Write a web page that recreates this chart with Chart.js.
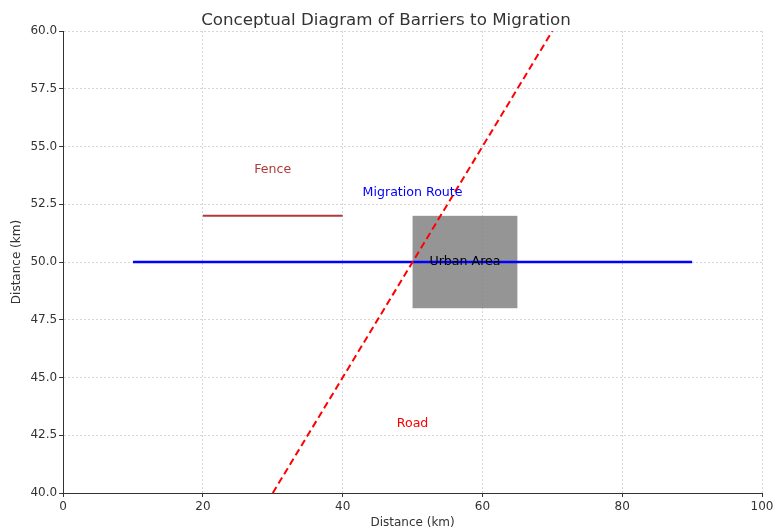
<!DOCTYPE html>
<html>
<head>
<meta charset="utf-8">
<script src="https://cdn.jsdelivr.net/npm/chart.js@4/dist/chart.umd.min.js"></script>
<style>
  html, body { margin: 0; padding: 0; background: #fff; }
  #wrap { width: 783px; height: 527px; }
</style>
</head>
<body>
<div id="wrap"><canvas id="c"></canvas></div>
<script>
// Data
const roadX = [30, 70];
const roadY = [40, 60];
const routeX = [10, 90];
const routeY = [50, 50];
const fenceX = [20, 40];
const fenceY = [52, 52];
const urbanBox = [50, 65, 48, 52]; // xMin, xMax, yMin, yMax
const labelText = ["Fence", "Migration Route", "Urban Area", "Road"];
const labelX = [30, 50, 57.5, 50];
const labelY = [54, 53, 50, 43];
const labelColor = ["#b03a3a", "#0000ff", "#000000", "#ff0000"];

const pts = (xs, ys) => xs.map((x, i) => ({ x, y: ys[i] }));
const font = "'DejaVu Sans', sans-serif";

// Rectangle under the lines, labels on top
const urbanPlugin = {
    id: "urban",
    beforeDatasetsDraw(chart) {
        const { ctx, scales } = chart;
        const x0 = scales.x.getPixelForValue(urbanBox[0]);
        const x1 = scales.x.getPixelForValue(urbanBox[1]);
        const y0 = scales.y.getPixelForValue(urbanBox[3]);
        const y1 = scales.y.getPixelForValue(urbanBox[2]);
        ctx.save();
        ctx.fillStyle = "rgba(128,128,128,0.83)";
        ctx.fillRect(x0, y0, x1 - x0, y1 - y0);
        ctx.restore();
    },
    afterDatasetsDraw(chart) {
        const { ctx, scales } = chart;
        ctx.save();
        ctx.font = "12.6px " + font;
        ctx.textAlign = "center";
        ctx.textBaseline = "middle";
        labelText.forEach((t, i) => {
            ctx.fillStyle = labelColor[i];
            ctx.fillText(t, scales.x.getPixelForValue(labelX[i]), scales.y.getPixelForValue(labelY[i]));
        });
        ctx.restore();
    },
};

new Chart(document.getElementById("c"), {
    type: "scatter",
    data: {
        datasets: [
            {
                label: "Road",
                data: pts(roadX, roadY),
                showLine: true,
                borderColor: "#ff0000",
                borderWidth: 2,
                borderDash: [7, 4],
                pointRadius: 0,
            },
            {
                label: "Migration Route",
                data: pts(routeX, routeY),
                showLine: true,
                borderColor: "#0000ff",
                borderWidth: 2.6,
                pointRadius: 0,
            },
            {
                label: "Fence",
                data: pts(fenceX, fenceY),
                showLine: true,
                borderColor: "#b03a3a",
                borderWidth: 2,
                pointRadius: 0,
            },
        ],
    },
    options: {
        responsive: true,
        maintainAspectRatio: false,
        animation: false,
        layout: { padding: { top: 0, right: 21, bottom: -2, left: 10 } },
        plugins: {
            legend: { display: false },
            tooltip: { enabled: false },
            title: {
                display: true,
                text: "Conceptual Diagram of Barriers to Migration",
                color: "#333",
                font: { family: font, size: 16.7, weight: "normal", lineHeight: 1.2 },
                padding: { top: 11, bottom: 0 },
            },
        },
        scales: {
            x: {
                type: "linear",
                min: 0,
                max: 100,
                ticks: { stepSize: 20, color: "#333", font: { family: font, size: 12, lineHeight: 1.0 }, padding: 4 },
                grid: { color: "#d6d6d6", tickColor: "#333", tickLength: 4 },
                border: { color: "#333", width: 1, dash: [2, 2] },
                title: { display: true, text: "Distance (km)", color: "#333", font: { family: font, size: 12, lineHeight: 1 }, padding: { top: 0, bottom: 0 } },
            },
            y: {
                type: "linear",
                min: 40,
                max: 60,
                ticks: { stepSize: 2.5, color: "#333", font: { family: font, size: 12 }, padding: 2, callback: (v) => v.toFixed(1) },
                grid: { color: "#d6d6d6", tickColor: "#333", tickLength: 4 },
                border: { color: "#333", width: 1, dash: [2, 2] },
                title: { display: true, text: "Distance (km)", color: "#333", font: { family: font, size: 12 }, padding: { top: 0, bottom: 4 } },
            },
        },
    },
    plugins: [urbanPlugin],
});
</script>
</body>
</html>
